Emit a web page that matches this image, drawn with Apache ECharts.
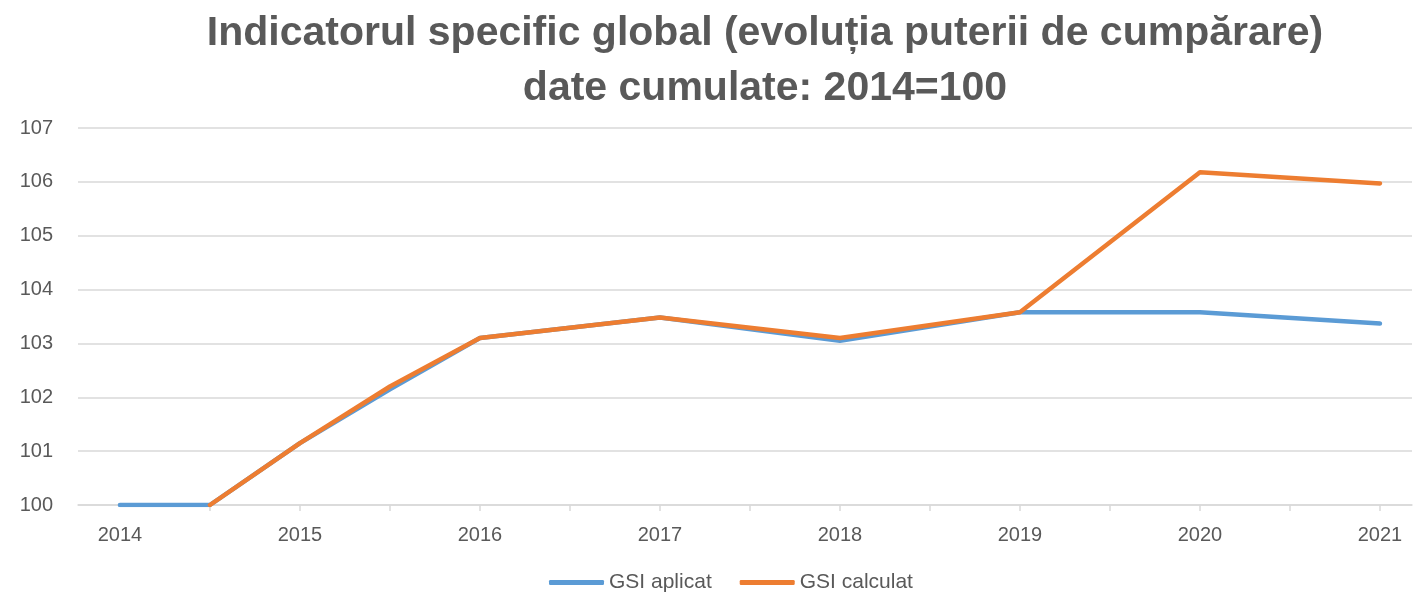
<!DOCTYPE html>
<html>
<head>
<meta charset="utf-8">
<script src="https://cdn.jsdelivr.net/npm/echarts@6/dist/echarts.min.js"></script>
<style>
  html, body { margin: 0; padding: 0; background: #fff; }
  #chart { width: 1414px; height: 592px; }
</style>
</head>
<body>
<div id="chart"></div>
<script>
// pozitiile pe axa X (ani, cu jumatati de an)
var xPos = [2014, 2014.5, 2015, 2015.5, 2016, 2017, 2018, 2019, 2020, 2021]
var gsiAplicat = [100, 100, 101.15, 102.15, 103.1, 103.48, 103.05, 103.58, 103.58, 103.37]
var gsiCalculat = [null, 100, 101.15, 102.2, 103.1, 103.48, 103.1, 103.58, 106.18, 105.97]
var yearLabels = [2014, 2015, 2016, 2017, 2018, 2019, 2020, 2021]
var tickPos = [2014.5, 2015, 2015.5, 2016, 2016.5, 2017, 2017.5, 2018, 2018.5, 2019, 2019.5, 2020, 2020.5, 2021]

function pairs(vals) {
  var out = []
  for (var i = 0; i < xPos.length; i++) {
    if (vals[i] !== null) out.push([xPos[i], vals[i]])
  }
  return out
}

var myChart = echarts.init(document.getElementById('chart'))
var txt = '#595959'
var font = 'Liberation Sans'
var option = {
  animation: false,
  title: {
    text: 'Indicatorul specific global (evoluția puterii de cumpărare)\ndate cumulate: 2014=100',
    // titlul e putin deplasat spre dreapta in original (centru ~765)
    left: 760,
    textAlign: 'center',
    top: 1,
    textStyle: {
      fontFamily: font,
      fontWeight: 'bold',
      fontSize: 41,
      lineHeight: 55,
      color: txt
    }
  },
  legend: {
    top: 567,
    left: 544,
    itemGap: 28,
    itemWidth: 55,
    itemHeight: 5,
    icon: 'roundRect',
    textStyle: { color: txt, fontSize: 21, fontFamily: font },
    data: ['GSI aplicat', 'GSI calculat']
  },
  grid: {
    left: 78,
    right: 2,
    top: 128,
    bottom: 87
  },
  xAxis: {
    type: 'value',
    min: 2013.767,
    max: 2021.178,
    splitLine: { show: false },
    axisLine: { show: true, lineStyle: { color: '#d9d9d9', width: 1.5 } },
    axisTick: {
      show: true,
      length: 6,
      customValues: tickPos,
      lineStyle: { color: '#d9d9d9', width: 1.5 }
    },
    axisLabel: {
      customValues: yearLabels,
      color: txt,
      fontSize: 20,
      margin: 20,
      fontFamily: font,
      formatter: function (v) { return String(v) }
    }
  },
  yAxis: {
    type: 'value',
    min: 100,
    max: 107,
    interval: 1,
    axisLine: { show: false },
    axisTick: { show: false },
    axisLabel: { color: txt, fontSize: 20, margin: 25, fontFamily: font },
    splitLine: { lineStyle: { color: '#d9d9d9', width: 1.5 } }
  },
  series: [
    {
      name: 'GSI aplicat',
      type: 'line',
      data: pairs(gsiAplicat),
      showSymbol: false,
      color: '#5B9BD5',
      lineStyle: { width: 4.5, cap: 'round', join: 'round' }
    },
    {
      name: 'GSI calculat',
      type: 'line',
      data: pairs(gsiCalculat),
      showSymbol: false,
      color: '#ED7D31',
      lineStyle: { width: 4.5, cap: 'round', join: 'round' }
    }
  ]
}
myChart.setOption(option)
</script>
</body>
</html>
